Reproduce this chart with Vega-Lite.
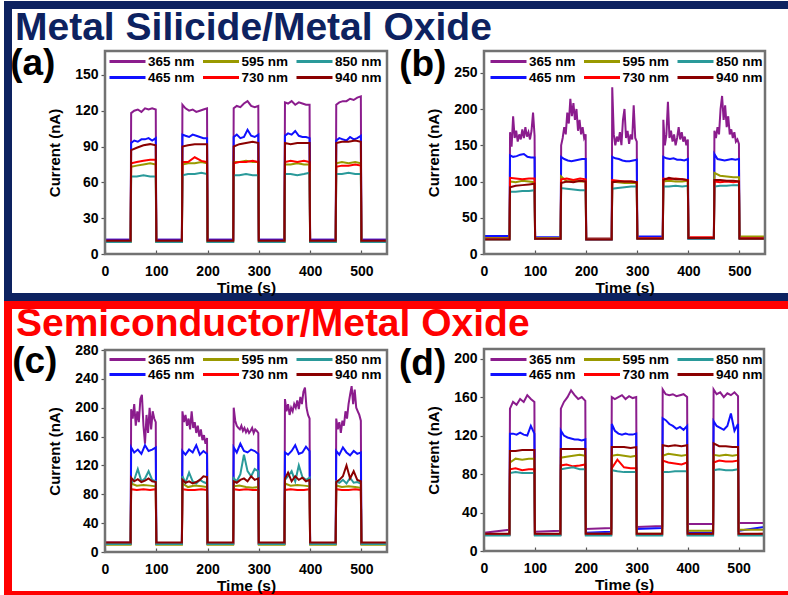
{
"$schema": "https://vega.github.io/schema/vega-lite/v6.json",
"usermeta": {"embedOptions": {"actions": false}},
"background": "#ffffff",
"padding": {"left": 4, "top": 1, "right": -24, "bottom": -4},
"spacing": 8,
"bounds": "flush",
"config": {
  "font": "Liberation Sans",
  "axis": {"domain": false, "grid": false, "labelFont": "Liberation Sans", "labelFontSize": 14, "labelFontWeight": "bold", "labelColor": "#000000", "titleFont": "Liberation Sans", "titleFontSize": 15, "titleFontWeight": "bold", "titleColor": "#000000", "tickColor": "#555555", "tickWidth": 1.2, "labelFlush": false, "labelOverlap": false},
  "axisX": {"tickSize": -4, "labelPadding": 14, "titlePadding": 2, "titleFontSize": 15.5},
  "axisY": {"tickSize": 4, "labelPadding": 3, "titlePadding": 12}
},
"vconcat": [
{
  "width": 800, "height": 292,
  "view": {"stroke": "#0d2260", "strokeWidth": 8, "fill": "#ffffff"},
  "resolve": {"scale": {"x": "independent", "y": "independent", "color": "independent"}, "axis": {"x": "independent", "y": "independent"}, "legend": {"color": "independent"}},
  "layer": [
    {
      "data": {"values": [{"label": "Metal Silicide/Metal Oxide"}]},
      "mark": {"type": "text", "fontSize": 39, "fontWeight": "bold", "align": "left", "baseline": "alphabetic", "color": "#0d2260"},
      "encoding": {
        "x": {"datum": -175.5, "scale": {"domain": [0, 550], "range": [97, 379], "nice": false, "zero": false}, "axis": null},
        "y": {"datum": 179.6, "scale": {"domain": [0, 170], "range": [249, 46], "nice": false, "zero": false}, "axis": null},
        "text": {"field": "label"}}
    },
    {
      "data": {"name": "a"},
      "mark": {"type": "line", "strokeWidth": 2},
      "encoding": {
        "x": {"field": "t", "type": "quantitative", "scale": {"domain": [0, 550], "range": [97, 379], "nice": false, "zero": false}, "axis": {"orient": "bottom", "offset": -43, "values": [0, 100, 200, 300, 400, 500], "title": "Time (s)"}},
        "y": {"field": "v", "type": "quantitative", "scale": {"domain": [0, 170], "range": [249, 46], "nice": false, "zero": false}, "axis": {"orient": "left", "offset": -97, "values": [0, 30, 60, 90, 120, 150], "title": "Current (nA)"}},
        "color": {"field": "w", "type": "nominal", "scale": {"domain": [365, 595, 850, 465, 730, 940], "range": ["#8b1c8d", "#999900", "#2a9a9a", "#1010ff", "#ff0000", "#8b0000"]},
          "legend": {"orient": "none", "legendX": 100, "legendY": 49, "title": null, "columns": 3, "direction": "horizontal", "symbolType": "M-1,0H5", "symbolSize": 144, "symbolStrokeWidth": 3, "labelOffset": 25, "columnPadding": 1.5, "rowPadding": 2, "padding": 0, "labelFontSize": 13.5, "labelFontWeight": "bold", "labelFont": "Liberation Sans", "labelColor": "#000000", "labelExpr": "datum.label + ' nm'"}}
      }
    },
    {
      "data": {"values": [{"label": "(a)"}]},
      "mark": {"type": "text", "fontSize": 37, "fontWeight": "bold", "align": "left", "baseline": "alphabetic", "color": "#000000"},
      "encoding": {
        "x": {"datum": -185, "scale": {"domain": [0, 550], "range": [97, 379], "nice": false, "zero": false}, "axis": null},
        "y": {"datum": 150, "scale": {"domain": [0, 170], "range": [249, 46], "nice": false, "zero": false}, "axis": null},
        "text": {"field": "label"}}
    },
    {
      "data": {"values": [{"label": "frame"}]},
      "mark": {"type": "rect", "fill": "transparent", "stroke": "#727272", "strokeWidth": 2.5},
      "encoding": {
        "x": {"datum": 0, "scale": {"domain": [0, 550], "range": [97, 379], "nice": false, "zero": false}, "axis": null}, "x2": {"datum": 550},
        "y": {"datum": 0, "scale": {"domain": [0, 170], "range": [249, 46], "nice": false, "zero": false}, "axis": null}, "y2": {"datum": 170}}
    },
    {
      "data": {"name": "b"},
      "mark": {"type": "line", "strokeWidth": 2},
      "encoding": {
        "x": {"field": "t", "type": "quantitative", "scale": {"domain": [0, 550], "range": [476, 757], "nice": false, "zero": false}, "axis": {"orient": "bottom", "offset": -43, "values": [0, 100, 200, 300, 400, 500], "title": "Time (s)"}},
        "y": {"field": "v", "type": "quantitative", "scale": {"domain": [0, 280], "range": [249, 46], "nice": false, "zero": false}, "axis": {"orient": "left", "offset": -476, "values": [0, 50, 100, 150, 200, 250], "title": "Current (nA)"}},
        "color": {"field": "w", "type": "nominal", "scale": {"domain": [365, 595, 850, 465, 730, 940], "range": ["#8b1c8d", "#999900", "#2a9a9a", "#1010ff", "#ff0000", "#8b0000"]},
          "legend": {"orient": "none", "legendX": 481, "legendY": 49, "title": null, "columns": 3, "direction": "horizontal", "symbolType": "M-1,0H5", "symbolSize": 144, "symbolStrokeWidth": 3, "labelOffset": 25, "columnPadding": 1.5, "rowPadding": 2, "padding": 0, "labelFontSize": 13.5, "labelFontWeight": "bold", "labelFont": "Liberation Sans", "labelColor": "#000000", "labelExpr": "datum.label + ' nm'"}}
      }
    },
    {
      "data": {"values": [{"label": "(b)"}]},
      "mark": {"type": "text", "fontSize": 37, "fontWeight": "bold", "align": "left", "baseline": "alphabetic", "color": "#000000"},
      "encoding": {
        "x": {"datum": -166, "scale": {"domain": [0, 550], "range": [476, 757], "nice": false, "zero": false}, "axis": null},
        "y": {"datum": 246, "scale": {"domain": [0, 280], "range": [249, 46], "nice": false, "zero": false}, "axis": null},
        "text": {"field": "label"}}
    },
    {
      "data": {"values": [{"label": "frame"}]},
      "mark": {"type": "rect", "fill": "transparent", "stroke": "#727272", "strokeWidth": 2.5},
      "encoding": {
        "x": {"datum": 0, "scale": {"domain": [0, 550], "range": [476, 757], "nice": false, "zero": false}, "axis": null}, "x2": {"datum": 550},
        "y": {"datum": 0, "scale": {"domain": [0, 280], "range": [249, 46], "nice": false, "zero": false}, "axis": null}, "y2": {"datum": 280}}
    }
  ]
},
{
  "width": 800, "height": 290,
  "view": {"stroke": "#ff0000", "strokeWidth": 8, "fill": "#ffffff"},
  "resolve": {"scale": {"x": "independent", "y": "independent", "color": "independent"}, "axis": {"x": "independent", "y": "independent"}, "legend": {"color": "independent"}},
  "layer": [
    {
      "data": {"values": [{"label": "Semiconductor/Metal Oxide"}]},
      "mark": {"type": "text", "fontSize": 39, "fontWeight": "bold", "align": "left", "baseline": "alphabetic", "color": "#ff0000"},
      "encoding": {
        "x": {"datum": -173.6, "scale": {"domain": [0, 550], "range": [97, 379], "nice": false, "zero": false}, "axis": null},
        "y": {"datum": 300, "scale": {"domain": [0, 280], "range": [247, 45], "nice": false, "zero": false}, "axis": null},
        "text": {"field": "label"}}
    },
    {
      "data": {"name": "c"},
      "mark": {"type": "line", "strokeWidth": 2},
      "encoding": {
        "x": {"field": "t", "type": "quantitative", "scale": {"domain": [0, 550], "range": [97, 379], "nice": false, "zero": false}, "axis": {"orient": "bottom", "offset": -43, "values": [0, 100, 200, 300, 400, 500], "title": "Time (s)"}},
        "y": {"field": "v", "type": "quantitative", "scale": {"domain": [0, 280], "range": [247, 45], "nice": false, "zero": false}, "axis": {"orient": "left", "offset": -97, "values": [0, 40, 80, 120, 160, 200, 240, 280], "title": "Current (nA)"}},
        "color": {"field": "w", "type": "nominal", "scale": {"domain": [365, 595, 850, 465, 730, 940], "range": ["#8b1c8d", "#999900", "#2a9a9a", "#1010ff", "#ff0000", "#8b0000"]},
          "legend": {"orient": "none", "legendX": 100, "legendY": 47, "title": null, "columns": 3, "direction": "horizontal", "symbolType": "M-1,0H5", "symbolSize": 144, "symbolStrokeWidth": 3, "labelOffset": 25, "columnPadding": 1.5, "rowPadding": 1, "padding": 0, "labelFontSize": 13.5, "labelFontWeight": "bold", "labelFont": "Liberation Sans", "labelColor": "#000000", "labelExpr": "datum.label + ' nm'"}}
      }
    },
    {
      "data": {"values": [{"label": "(c)"}]},
      "mark": {"type": "text", "fontSize": 37, "fontWeight": "bold", "align": "left", "baseline": "alphabetic", "color": "#000000"},
      "encoding": {
        "x": {"datum": -181, "scale": {"domain": [0, 550], "range": [97, 379], "nice": false, "zero": false}, "axis": null},
        "y": {"datum": 248, "scale": {"domain": [0, 280], "range": [247, 45], "nice": false, "zero": false}, "axis": null},
        "text": {"field": "label"}}
    },
    {
      "data": {"values": [{"label": "frame"}]},
      "mark": {"type": "rect", "fill": "transparent", "stroke": "#727272", "strokeWidth": 2.5},
      "encoding": {
        "x": {"datum": 0, "scale": {"domain": [0, 550], "range": [97, 379], "nice": false, "zero": false}, "axis": null}, "x2": {"datum": 550},
        "y": {"datum": 0, "scale": {"domain": [0, 280], "range": [247, 45], "nice": false, "zero": false}, "axis": null}, "y2": {"datum": 280}}
    },
    {
      "data": {"name": "d"},
      "mark": {"type": "line", "strokeWidth": 2},
      "encoding": {
        "x": {"field": "t", "type": "quantitative", "scale": {"domain": [0, 550], "range": [476, 756], "nice": false, "zero": false}, "axis": {"orient": "bottom", "offset": -44, "values": [0, 100, 200, 300, 400, 500], "title": "Time (s)"}},
        "y": {"field": "v", "type": "quantitative", "scale": {"domain": [0, 210], "range": [246, 44], "nice": false, "zero": false}, "axis": {"orient": "left", "offset": -476, "values": [0, 40, 80, 120, 160, 200], "title": "Current (nA)"}},
        "color": {"field": "w", "type": "nominal", "scale": {"domain": [365, 595, 850, 465, 730, 940], "range": ["#8b1c8d", "#999900", "#2a9a9a", "#1010ff", "#ff0000", "#8b0000"]},
          "legend": {"orient": "none", "legendX": 481, "legendY": 47, "title": null, "columns": 3, "direction": "horizontal", "symbolType": "M-1,0H5", "symbolSize": 144, "symbolStrokeWidth": 3, "labelOffset": 25, "columnPadding": 1.5, "rowPadding": 1, "padding": 0, "labelFontSize": 13.5, "labelFontWeight": "bold", "labelFont": "Liberation Sans", "labelColor": "#000000", "labelExpr": "datum.label + ' nm'"}}
      }
    },
    {
      "data": {"values": [{"label": "(d)"}]},
      "mark": {"type": "text", "fontSize": 37, "fontWeight": "bold", "align": "left", "baseline": "alphabetic", "color": "#000000"},
      "encoding": {
        "x": {"datum": -167, "scale": {"domain": [0, 550], "range": [476, 756], "nice": false, "zero": false}, "axis": null},
        "y": {"datum": 183, "scale": {"domain": [0, 210], "range": [246, 44], "nice": false, "zero": false}, "axis": null},
        "text": {"field": "label"}}
    },
    {
      "data": {"values": [{"label": "frame"}]},
      "mark": {"type": "rect", "fill": "transparent", "stroke": "#727272", "strokeWidth": 2.5},
      "encoding": {
        "x": {"datum": 0, "scale": {"domain": [0, 550], "range": [476, 756], "nice": false, "zero": false}, "axis": null}, "x2": {"datum": 550},
        "y": {"datum": 0, "scale": {"domain": [0, 210], "range": [246, 44], "nice": false, "zero": false}, "axis": null}, "y2": {"datum": 210}}
    }
  ]
}
],
"datasets": {
"a": [
{"t":0,"w":365,"v":12},{"t":50,"w":365,"v":12},{"t":51,"w":365,"v":118},{"t":57,"w":365,"v":120},{"t":64,"w":365,"v":121},{"t":71,"w":365,"v":119},{"t":78,"w":365,"v":122},{"t":85,"w":365,"v":121},{"t":92,"w":365,"v":122},{"t":99,"w":365,"v":121},{"t":100,"w":365,"v":12},{"t":150,"w":365,"v":12},{"t":151,"w":365,"v":125},{"t":157,"w":365,"v":122},{"t":164,"w":365,"v":120},{"t":171,"w":365,"v":121},{"t":178,"w":365,"v":119},{"t":185,"w":365,"v":120},{"t":192,"w":365,"v":121},{"t":199,"w":365,"v":122},{"t":200,"w":365,"v":12},{"t":250,"w":365,"v":12},{"t":251,"w":365,"v":122},{"t":257,"w":365,"v":124},{"t":264,"w":365,"v":123},{"t":271,"w":365,"v":126},{"t":278,"w":365,"v":128},{"t":285,"w":365,"v":124},{"t":292,"w":365,"v":123},{"t":299,"w":365,"v":124},{"t":300,"w":365,"v":12},{"t":350,"w":365,"v":12},{"t":351,"w":365,"v":127},{"t":357,"w":365,"v":126},{"t":364,"w":365,"v":128},{"t":371,"w":365,"v":125},{"t":378,"w":365,"v":127},{"t":385,"w":365,"v":126},{"t":392,"w":365,"v":125},{"t":399,"w":365,"v":125},{"t":400,"w":365,"v":12},{"t":450,"w":365,"v":12},{"t":451,"w":365,"v":125},{"t":457,"w":365,"v":127},{"t":464,"w":365,"v":128},{"t":471,"w":365,"v":128},{"t":478,"w":365,"v":130},{"t":485,"w":365,"v":129},{"t":492,"w":365,"v":131},{"t":499,"w":365,"v":132},{"t":500,"w":365,"v":12},{"t":550,"w":365,"v":12},
{"t":0,"w":465,"v":12},{"t":50,"w":465,"v":12},{"t":51,"w":465,"v":93},{"t":57,"w":465,"v":95},{"t":64,"w":465,"v":94},{"t":71,"w":465,"v":96},{"t":78,"w":465,"v":96},{"t":85,"w":465,"v":97},{"t":92,"w":465,"v":95},{"t":99,"w":465,"v":97},{"t":100,"w":465,"v":12},{"t":150,"w":465,"v":12},{"t":151,"w":465,"v":100},{"t":157,"w":465,"v":99},{"t":164,"w":465,"v":98},{"t":171,"w":465,"v":100},{"t":178,"w":465,"v":99},{"t":185,"w":465,"v":98},{"t":192,"w":465,"v":97},{"t":199,"w":465,"v":97},{"t":200,"w":465,"v":12},{"t":250,"w":465,"v":12},{"t":251,"w":465,"v":98},{"t":257,"w":465,"v":100},{"t":264,"w":465,"v":97},{"t":271,"w":465,"v":98},{"t":278,"w":465,"v":104},{"t":285,"w":465,"v":99},{"t":292,"w":465,"v":98},{"t":299,"w":465,"v":100},{"t":300,"w":465,"v":12},{"t":350,"w":465,"v":12},{"t":351,"w":465,"v":99},{"t":357,"w":465,"v":101},{"t":364,"w":465,"v":100},{"t":371,"w":465,"v":103},{"t":378,"w":465,"v":99},{"t":385,"w":465,"v":98},{"t":392,"w":465,"v":98},{"t":399,"w":465,"v":97},{"t":400,"w":465,"v":12},{"t":450,"w":465,"v":12},{"t":451,"w":465,"v":95},{"t":457,"w":465,"v":97},{"t":464,"w":465,"v":96},{"t":471,"w":465,"v":95},{"t":478,"w":465,"v":98},{"t":485,"w":465,"v":96},{"t":492,"w":465,"v":97},{"t":499,"w":465,"v":99},{"t":500,"w":465,"v":12},{"t":550,"w":465,"v":12},
{"t":0,"w":595,"v":10},{"t":50,"w":595,"v":10},{"t":51,"w":595,"v":73},{"t":62,"w":595,"v":74},{"t":75,"w":595,"v":75},{"t":88,"w":595,"v":76},{"t":99,"w":595,"v":75},{"t":100,"w":595,"v":10},{"t":150,"w":595,"v":10},{"t":151,"w":595,"v":75},{"t":162,"w":595,"v":76},{"t":175,"w":595,"v":76},{"t":188,"w":595,"v":77},{"t":199,"w":595,"v":76},{"t":200,"w":595,"v":10},{"t":250,"w":595,"v":10},{"t":251,"w":595,"v":77},{"t":262,"w":595,"v":77},{"t":275,"w":595,"v":78},{"t":288,"w":595,"v":77},{"t":299,"w":595,"v":77},{"t":300,"w":595,"v":10},{"t":350,"w":595,"v":10},{"t":351,"w":595,"v":75},{"t":362,"w":595,"v":75},{"t":375,"w":595,"v":76},{"t":388,"w":595,"v":75},{"t":399,"w":595,"v":75},{"t":400,"w":595,"v":10},{"t":450,"w":595,"v":10},{"t":451,"w":595,"v":76},{"t":462,"w":595,"v":77},{"t":475,"w":595,"v":76},{"t":488,"w":595,"v":77},{"t":499,"w":595,"v":76},{"t":500,"w":595,"v":10},{"t":550,"w":595,"v":10},
{"t":0,"w":730,"v":11},{"t":50,"w":730,"v":11},{"t":51,"w":730,"v":76},{"t":62,"w":730,"v":77},{"t":75,"w":730,"v":78},{"t":88,"w":730,"v":79},{"t":99,"w":730,"v":79},{"t":100,"w":730,"v":11},{"t":150,"w":730,"v":11},{"t":151,"w":730,"v":77},{"t":162,"w":730,"v":77},{"t":175,"w":730,"v":81},{"t":188,"w":730,"v":78},{"t":199,"w":730,"v":77},{"t":200,"w":730,"v":11},{"t":250,"w":730,"v":11},{"t":251,"w":730,"v":76},{"t":262,"w":730,"v":77},{"t":275,"w":730,"v":77},{"t":288,"w":730,"v":78},{"t":299,"w":730,"v":77},{"t":300,"w":730,"v":11},{"t":350,"w":730,"v":11},{"t":351,"w":730,"v":77},{"t":362,"w":730,"v":78},{"t":375,"w":730,"v":77},{"t":388,"w":730,"v":78},{"t":399,"w":730,"v":77},{"t":400,"w":730,"v":11},{"t":450,"w":730,"v":11},{"t":451,"w":730,"v":73},{"t":462,"w":730,"v":74},{"t":475,"w":730,"v":74},{"t":488,"w":730,"v":75},{"t":499,"w":730,"v":74},{"t":500,"w":730,"v":11},{"t":550,"w":730,"v":11},
{"t":0,"w":850,"v":10},{"t":50,"w":850,"v":10},{"t":51,"w":850,"v":65},{"t":62,"w":850,"v":65},{"t":75,"w":850,"v":66},{"t":88,"w":850,"v":65},{"t":99,"w":850,"v":65},{"t":100,"w":850,"v":10},{"t":150,"w":850,"v":10},{"t":151,"w":850,"v":66},{"t":162,"w":850,"v":67},{"t":175,"w":850,"v":67},{"t":188,"w":850,"v":68},{"t":199,"w":850,"v":67},{"t":200,"w":850,"v":10},{"t":250,"w":850,"v":10},{"t":251,"w":850,"v":66},{"t":262,"w":850,"v":66},{"t":275,"w":850,"v":67},{"t":288,"w":850,"v":66},{"t":299,"w":850,"v":66},{"t":300,"w":850,"v":10},{"t":350,"w":850,"v":10},{"t":351,"w":850,"v":67},{"t":362,"w":850,"v":67},{"t":375,"w":850,"v":66},{"t":388,"w":850,"v":67},{"t":399,"w":850,"v":68},{"t":400,"w":850,"v":10},{"t":450,"w":850,"v":10},{"t":451,"w":850,"v":67},{"t":462,"w":850,"v":67},{"t":475,"w":850,"v":68},{"t":488,"w":850,"v":67},{"t":499,"w":850,"v":67},{"t":500,"w":850,"v":10},{"t":550,"w":850,"v":10},
{"t":0,"w":940,"v":11},{"t":50,"w":940,"v":11},{"t":51,"w":940,"v":87},{"t":62,"w":940,"v":89},{"t":75,"w":940,"v":91},{"t":88,"w":940,"v":92},{"t":99,"w":940,"v":91},{"t":100,"w":940,"v":11},{"t":150,"w":940,"v":11},{"t":151,"w":940,"v":90},{"t":162,"w":940,"v":91},{"t":175,"w":940,"v":92},{"t":188,"w":940,"v":92},{"t":199,"w":940,"v":92},{"t":200,"w":940,"v":11},{"t":250,"w":940,"v":11},{"t":251,"w":940,"v":90},{"t":262,"w":940,"v":92},{"t":275,"w":940,"v":93},{"t":288,"w":940,"v":94},{"t":299,"w":940,"v":93},{"t":300,"w":940,"v":11},{"t":350,"w":940,"v":11},{"t":351,"w":940,"v":93},{"t":362,"w":940,"v":92},{"t":375,"w":940,"v":93},{"t":388,"w":940,"v":93},{"t":399,"w":940,"v":93},{"t":400,"w":940,"v":11},{"t":450,"w":940,"v":11},{"t":451,"w":940,"v":93},{"t":462,"w":940,"v":94},{"t":475,"w":940,"v":94},{"t":488,"w":940,"v":95},{"t":499,"w":940,"v":94},{"t":500,"w":940,"v":11},{"t":550,"w":940,"v":11}
],
"b": [
{"t":0,"w":365,"v":21},{"t":50,"w":365,"v":21},{"t":51,"w":365,"v":168},{"t":54,"w":365,"v":148},{"t":57,"w":365,"v":190},{"t":60,"w":365,"v":160},{"t":63,"w":365,"v":170},{"t":66,"w":365,"v":155},{"t":69,"w":365,"v":165},{"t":72,"w":365,"v":158},{"t":75,"w":365,"v":172},{"t":78,"w":365,"v":160},{"t":81,"w":365,"v":175},{"t":84,"w":365,"v":162},{"t":87,"w":365,"v":168},{"t":90,"w":365,"v":158},{"t":93,"w":365,"v":170},{"t":96,"w":365,"v":195},{"t":99,"w":365,"v":163},{"t":100,"w":365,"v":21},{"t":150,"w":365,"v":21},{"t":151,"w":365,"v":150},{"t":154,"w":365,"v":160},{"t":157,"w":365,"v":175},{"t":160,"w":365,"v":165},{"t":163,"w":365,"v":195},{"t":166,"w":365,"v":180},{"t":169,"w":365,"v":214},{"t":172,"w":365,"v":190},{"t":175,"w":365,"v":208},{"t":178,"w":365,"v":185},{"t":181,"w":365,"v":200},{"t":184,"w":365,"v":170},{"t":187,"w":365,"v":185},{"t":190,"w":365,"v":165},{"t":193,"w":365,"v":175},{"t":196,"w":365,"v":160},{"t":199,"w":365,"v":165},{"t":200,"w":365,"v":20},{"t":250,"w":365,"v":20},{"t":251,"w":365,"v":230},{"t":254,"w":365,"v":165},{"t":257,"w":365,"v":150},{"t":260,"w":365,"v":162},{"t":263,"w":365,"v":155},{"t":266,"w":365,"v":168},{"t":269,"w":365,"v":150},{"t":272,"w":365,"v":185},{"t":275,"w":365,"v":200},{"t":278,"w":365,"v":160},{"t":281,"w":365,"v":170},{"t":284,"w":365,"v":152},{"t":287,"w":365,"v":165},{"t":290,"w":365,"v":158},{"t":293,"w":365,"v":205},{"t":296,"w":365,"v":160},{"t":299,"w":365,"v":155},{"t":300,"w":365,"v":22},{"t":350,"w":365,"v":22},{"t":351,"w":365,"v":185},{"t":354,"w":365,"v":150},{"t":357,"w":365,"v":165},{"t":360,"w":365,"v":210},{"t":363,"w":365,"v":160},{"t":366,"w":365,"v":170},{"t":369,"w":365,"v":155},{"t":372,"w":365,"v":165},{"t":375,"w":365,"v":150},{"t":378,"w":365,"v":160},{"t":381,"w":365,"v":175},{"t":384,"w":365,"v":158},{"t":387,"w":365,"v":168},{"t":390,"w":365,"v":155},{"t":393,"w":365,"v":162},{"t":396,"w":365,"v":150},{"t":399,"w":365,"v":158},{"t":400,"w":365,"v":21},{"t":450,"w":365,"v":21},{"t":451,"w":365,"v":170},{"t":454,"w":365,"v":160},{"t":457,"w":365,"v":175},{"t":460,"w":365,"v":165},{"t":463,"w":365,"v":200},{"t":466,"w":365,"v":218},{"t":469,"w":365,"v":185},{"t":472,"w":365,"v":205},{"t":475,"w":365,"v":175},{"t":478,"w":365,"v":190},{"t":481,"w":365,"v":165},{"t":484,"w":365,"v":172},{"t":487,"w":365,"v":160},{"t":490,"w":365,"v":168},{"t":493,"w":365,"v":155},{"t":496,"w":365,"v":158},{"t":499,"w":365,"v":152},{"t":500,"w":365,"v":22},{"t":550,"w":365,"v":22},
{"t":0,"w":465,"v":25},{"t":50,"w":465,"v":25},{"t":51,"w":465,"v":136},{"t":57,"w":465,"v":134},{"t":64,"w":465,"v":135},{"t":71,"w":465,"v":137},{"t":78,"w":465,"v":138},{"t":85,"w":465,"v":134},{"t":92,"w":465,"v":133},{"t":99,"w":465,"v":133},{"t":100,"w":465,"v":23},{"t":150,"w":465,"v":23},{"t":151,"w":465,"v":134},{"t":157,"w":465,"v":131},{"t":164,"w":465,"v":129},{"t":171,"w":465,"v":128},{"t":178,"w":465,"v":129},{"t":185,"w":465,"v":130},{"t":192,"w":465,"v":131},{"t":199,"w":465,"v":131},{"t":200,"w":465,"v":21},{"t":250,"w":465,"v":21},{"t":251,"w":465,"v":134},{"t":257,"w":465,"v":132},{"t":264,"w":465,"v":131},{"t":271,"w":465,"v":129},{"t":278,"w":465,"v":128},{"t":285,"w":465,"v":128},{"t":292,"w":465,"v":129},{"t":299,"w":465,"v":130},{"t":300,"w":465,"v":24},{"t":350,"w":465,"v":24},{"t":351,"w":465,"v":134},{"t":357,"w":465,"v":132},{"t":364,"w":465,"v":131},{"t":371,"w":465,"v":132},{"t":378,"w":465,"v":130},{"t":385,"w":465,"v":130},{"t":392,"w":465,"v":129},{"t":399,"w":465,"v":131},{"t":400,"w":465,"v":22},{"t":450,"w":465,"v":22},{"t":451,"w":465,"v":138},{"t":457,"w":465,"v":131},{"t":464,"w":465,"v":130},{"t":471,"w":465,"v":129},{"t":478,"w":465,"v":130},{"t":485,"w":465,"v":131},{"t":492,"w":465,"v":130},{"t":499,"w":465,"v":131},{"t":500,"w":465,"v":23},{"t":550,"w":465,"v":23},
{"t":0,"w":595,"v":22},{"t":50,"w":595,"v":22},{"t":51,"w":595,"v":100},{"t":62,"w":595,"v":99},{"t":75,"w":595,"v":101},{"t":88,"w":595,"v":100},{"t":99,"w":595,"v":99},{"t":100,"w":595,"v":22},{"t":150,"w":595,"v":22},{"t":151,"w":595,"v":107},{"t":162,"w":595,"v":100},{"t":175,"w":595,"v":101},{"t":188,"w":595,"v":100},{"t":199,"w":595,"v":100},{"t":200,"w":595,"v":21},{"t":250,"w":595,"v":21},{"t":251,"w":595,"v":100},{"t":262,"w":595,"v":99},{"t":275,"w":595,"v":98},{"t":288,"w":595,"v":98},{"t":299,"w":595,"v":98},{"t":300,"w":595,"v":22},{"t":350,"w":595,"v":22},{"t":351,"w":595,"v":100},{"t":362,"w":595,"v":101},{"t":375,"w":595,"v":100},{"t":388,"w":595,"v":100},{"t":399,"w":595,"v":101},{"t":400,"w":595,"v":22},{"t":450,"w":595,"v":22},{"t":451,"w":595,"v":112},{"t":462,"w":595,"v":108},{"t":475,"w":595,"v":107},{"t":488,"w":595,"v":106},{"t":499,"w":595,"v":106},{"t":500,"w":595,"v":24},{"t":550,"w":595,"v":24},
{"t":0,"w":730,"v":21},{"t":50,"w":730,"v":21},{"t":51,"w":730,"v":105},{"t":62,"w":730,"v":104},{"t":75,"w":730,"v":103},{"t":88,"w":730,"v":104},{"t":99,"w":730,"v":104},{"t":100,"w":730,"v":21},{"t":150,"w":730,"v":21},{"t":151,"w":730,"v":103},{"t":162,"w":730,"v":104},{"t":175,"w":730,"v":102},{"t":188,"w":730,"v":104},{"t":199,"w":730,"v":103},{"t":200,"w":730,"v":21},{"t":250,"w":730,"v":21},{"t":251,"w":730,"v":102},{"t":262,"w":730,"v":101},{"t":275,"w":730,"v":100},{"t":288,"w":730,"v":100},{"t":299,"w":730,"v":99},{"t":300,"w":730,"v":22},{"t":350,"w":730,"v":22},{"t":351,"w":730,"v":104},{"t":362,"w":730,"v":103},{"t":375,"w":730,"v":104},{"t":388,"w":730,"v":103},{"t":399,"w":730,"v":102},{"t":400,"w":730,"v":23},{"t":450,"w":730,"v":23},{"t":451,"w":730,"v":100},{"t":462,"w":730,"v":99},{"t":475,"w":730,"v":100},{"t":488,"w":730,"v":99},{"t":499,"w":730,"v":100},{"t":500,"w":730,"v":22},{"t":550,"w":730,"v":22},
{"t":0,"w":850,"v":20},{"t":50,"w":850,"v":20},{"t":51,"w":850,"v":86},{"t":62,"w":850,"v":86},{"t":75,"w":850,"v":87},{"t":88,"w":850,"v":87},{"t":99,"w":850,"v":88},{"t":100,"w":850,"v":21},{"t":150,"w":850,"v":21},{"t":151,"w":850,"v":91},{"t":162,"w":850,"v":90},{"t":175,"w":850,"v":89},{"t":188,"w":850,"v":88},{"t":199,"w":850,"v":88},{"t":200,"w":850,"v":20},{"t":250,"w":850,"v":20},{"t":251,"w":850,"v":90},{"t":262,"w":850,"v":91},{"t":275,"w":850,"v":92},{"t":288,"w":850,"v":93},{"t":299,"w":850,"v":93},{"t":300,"w":850,"v":21},{"t":350,"w":850,"v":21},{"t":351,"w":850,"v":93},{"t":362,"w":850,"v":93},{"t":375,"w":850,"v":94},{"t":388,"w":850,"v":93},{"t":399,"w":850,"v":94},{"t":400,"w":850,"v":21},{"t":450,"w":850,"v":21},{"t":451,"w":850,"v":93},{"t":462,"w":850,"v":94},{"t":475,"w":850,"v":94},{"t":488,"w":850,"v":95},{"t":499,"w":850,"v":95},{"t":500,"w":850,"v":21},{"t":550,"w":850,"v":21},
{"t":0,"w":940,"v":20},{"t":50,"w":940,"v":20},{"t":51,"w":940,"v":92},{"t":62,"w":940,"v":94},{"t":75,"w":940,"v":95},{"t":88,"w":940,"v":96},{"t":99,"w":940,"v":97},{"t":100,"w":940,"v":21},{"t":150,"w":940,"v":21},{"t":151,"w":940,"v":98},{"t":162,"w":940,"v":100},{"t":175,"w":940,"v":99},{"t":188,"w":940,"v":101},{"t":199,"w":940,"v":100},{"t":200,"w":940,"v":20},{"t":250,"w":940,"v":20},{"t":251,"w":940,"v":99},{"t":262,"w":940,"v":100},{"t":275,"w":940,"v":100},{"t":288,"w":940,"v":100},{"t":299,"w":940,"v":99},{"t":300,"w":940,"v":21},{"t":350,"w":940,"v":21},{"t":351,"w":940,"v":102},{"t":362,"w":940,"v":105},{"t":375,"w":940,"v":103},{"t":388,"w":940,"v":103},{"t":399,"w":940,"v":102},{"t":400,"w":940,"v":22},{"t":450,"w":940,"v":22},{"t":451,"w":940,"v":102},{"t":462,"w":940,"v":102},{"t":475,"w":940,"v":101},{"t":488,"w":940,"v":101},{"t":499,"w":940,"v":100},{"t":500,"w":940,"v":21},{"t":550,"w":940,"v":21}
],
"c": [
{"t":0,"w":365,"v":13},{"t":50,"w":365,"v":13},{"t":51,"w":365,"v":198},{"t":54,"w":365,"v":185},{"t":57,"w":365,"v":205},{"t":60,"w":365,"v":175},{"t":63,"w":365,"v":195},{"t":66,"w":365,"v":180},{"t":69,"w":365,"v":212},{"t":72,"w":365,"v":218},{"t":75,"w":365,"v":175},{"t":78,"w":365,"v":150},{"t":81,"w":365,"v":190},{"t":84,"w":365,"v":165},{"t":87,"w":365,"v":200},{"t":90,"w":365,"v":170},{"t":93,"w":365,"v":195},{"t":96,"w":365,"v":185},{"t":99,"w":365,"v":180},{"t":100,"w":365,"v":12},{"t":150,"w":365,"v":12},{"t":151,"w":365,"v":195},{"t":154,"w":365,"v":180},{"t":157,"w":365,"v":190},{"t":160,"w":365,"v":175},{"t":163,"w":365,"v":185},{"t":166,"w":365,"v":170},{"t":169,"w":365,"v":195},{"t":172,"w":365,"v":172},{"t":175,"w":365,"v":180},{"t":178,"w":365,"v":165},{"t":181,"w":365,"v":175},{"t":184,"w":365,"v":160},{"t":187,"w":365,"v":170},{"t":190,"w":365,"v":155},{"t":193,"w":365,"v":162},{"t":196,"w":365,"v":150},{"t":199,"w":365,"v":158},{"t":200,"w":365,"v":12},{"t":250,"w":365,"v":12},{"t":251,"w":365,"v":200},{"t":254,"w":365,"v":182},{"t":257,"w":365,"v":175},{"t":260,"w":365,"v":172},{"t":263,"w":365,"v":170},{"t":266,"w":365,"v":175},{"t":269,"w":365,"v":168},{"t":272,"w":365,"v":172},{"t":275,"w":365,"v":166},{"t":278,"w":365,"v":170},{"t":281,"w":365,"v":165},{"t":284,"w":365,"v":168},{"t":287,"w":365,"v":172},{"t":290,"w":365,"v":165},{"t":293,"w":365,"v":170},{"t":296,"w":365,"v":168},{"t":299,"w":365,"v":165},{"t":300,"w":365,"v":12},{"t":350,"w":365,"v":12},{"t":351,"w":365,"v":212},{"t":354,"w":365,"v":195},{"t":357,"w":365,"v":205},{"t":360,"w":365,"v":190},{"t":363,"w":365,"v":200},{"t":366,"w":365,"v":195},{"t":369,"w":365,"v":205},{"t":372,"w":365,"v":200},{"t":375,"w":365,"v":210},{"t":378,"w":365,"v":198},{"t":381,"w":365,"v":215},{"t":384,"w":365,"v":205},{"t":387,"w":365,"v":222},{"t":390,"w":365,"v":228},{"t":393,"w":365,"v":200},{"t":396,"w":365,"v":190},{"t":399,"w":365,"v":185},{"t":400,"w":365,"v":12},{"t":450,"w":365,"v":12},{"t":451,"w":365,"v":185},{"t":454,"w":365,"v":170},{"t":457,"w":365,"v":180},{"t":460,"w":365,"v":165},{"t":463,"w":365,"v":182},{"t":466,"w":365,"v":175},{"t":469,"w":365,"v":195},{"t":472,"w":365,"v":185},{"t":475,"w":365,"v":205},{"t":478,"w":365,"v":218},{"t":481,"w":365,"v":230},{"t":484,"w":365,"v":205},{"t":487,"w":365,"v":225},{"t":490,"w":365,"v":200},{"t":493,"w":365,"v":195},{"t":496,"w":365,"v":190},{"t":499,"w":365,"v":182},{"t":500,"w":365,"v":12},{"t":550,"w":365,"v":12},
{"t":0,"w":465,"v":12},{"t":50,"w":465,"v":12},{"t":51,"w":465,"v":145},{"t":57,"w":465,"v":138},{"t":64,"w":465,"v":142},{"t":71,"w":465,"v":136},{"t":78,"w":465,"v":148},{"t":85,"w":465,"v":140},{"t":92,"w":465,"v":142},{"t":99,"w":465,"v":145},{"t":100,"w":465,"v":12},{"t":150,"w":465,"v":12},{"t":151,"w":465,"v":140},{"t":157,"w":465,"v":135},{"t":164,"w":465,"v":142},{"t":171,"w":465,"v":138},{"t":178,"w":465,"v":148},{"t":185,"w":465,"v":135},{"t":192,"w":465,"v":140},{"t":199,"w":465,"v":136},{"t":200,"w":465,"v":12},{"t":250,"w":465,"v":12},{"t":251,"w":465,"v":145},{"t":257,"w":465,"v":138},{"t":264,"w":465,"v":150},{"t":271,"w":465,"v":140},{"t":278,"w":465,"v":138},{"t":285,"w":465,"v":142},{"t":292,"w":465,"v":140},{"t":299,"w":465,"v":136},{"t":300,"w":465,"v":12},{"t":350,"w":465,"v":12},{"t":351,"w":465,"v":138},{"t":357,"w":465,"v":135},{"t":364,"w":465,"v":140},{"t":371,"w":465,"v":148},{"t":378,"w":465,"v":136},{"t":385,"w":465,"v":138},{"t":392,"w":465,"v":146},{"t":399,"w":465,"v":140},{"t":400,"w":465,"v":12},{"t":450,"w":465,"v":12},{"t":451,"w":465,"v":140},{"t":457,"w":465,"v":135},{"t":464,"w":465,"v":145},{"t":471,"w":465,"v":138},{"t":478,"w":465,"v":134},{"t":485,"w":465,"v":140},{"t":492,"w":465,"v":136},{"t":499,"w":465,"v":138},{"t":500,"w":465,"v":12},{"t":550,"w":465,"v":12},
{"t":0,"w":595,"v":10},{"t":50,"w":595,"v":10},{"t":51,"w":595,"v":95},{"t":62,"w":595,"v":92},{"t":75,"w":595,"v":93},{"t":88,"w":595,"v":92},{"t":99,"w":595,"v":91},{"t":100,"w":595,"v":10},{"t":150,"w":595,"v":10},{"t":151,"w":595,"v":95},{"t":162,"w":595,"v":90},{"t":175,"w":595,"v":92},{"t":188,"w":595,"v":91},{"t":199,"w":595,"v":90},{"t":200,"w":595,"v":10},{"t":250,"w":595,"v":10},{"t":251,"w":595,"v":91},{"t":262,"w":595,"v":92},{"t":275,"w":595,"v":90},{"t":288,"w":595,"v":89},{"t":299,"w":595,"v":90},{"t":300,"w":595,"v":10},{"t":350,"w":595,"v":10},{"t":351,"w":595,"v":95},{"t":362,"w":595,"v":92},{"t":375,"w":595,"v":93},{"t":388,"w":595,"v":92},{"t":399,"w":595,"v":91},{"t":400,"w":595,"v":10},{"t":450,"w":595,"v":10},{"t":451,"w":595,"v":92},{"t":462,"w":595,"v":90},{"t":475,"w":595,"v":91},{"t":488,"w":595,"v":90},{"t":499,"w":595,"v":89},{"t":500,"w":595,"v":10},{"t":550,"w":595,"v":10},
{"t":0,"w":730,"v":11},{"t":50,"w":730,"v":11},{"t":51,"w":730,"v":87},{"t":62,"w":730,"v":86},{"t":75,"w":730,"v":87},{"t":88,"w":730,"v":86},{"t":99,"w":730,"v":87},{"t":100,"w":730,"v":11},{"t":150,"w":730,"v":11},{"t":151,"w":730,"v":87},{"t":162,"w":730,"v":86},{"t":175,"w":730,"v":86},{"t":188,"w":730,"v":87},{"t":199,"w":730,"v":86},{"t":200,"w":730,"v":11},{"t":250,"w":730,"v":11},{"t":251,"w":730,"v":87},{"t":262,"w":730,"v":86},{"t":275,"w":730,"v":87},{"t":288,"w":730,"v":86},{"t":299,"w":730,"v":86},{"t":300,"w":730,"v":11},{"t":350,"w":730,"v":11},{"t":351,"w":730,"v":86},{"t":362,"w":730,"v":87},{"t":375,"w":730,"v":86},{"t":388,"w":730,"v":86},{"t":399,"w":730,"v":87},{"t":400,"w":730,"v":11},{"t":450,"w":730,"v":11},{"t":451,"w":730,"v":87},{"t":462,"w":730,"v":86},{"t":475,"w":730,"v":86},{"t":488,"w":730,"v":87},{"t":499,"w":730,"v":86},{"t":500,"w":730,"v":11},{"t":550,"w":730,"v":11},
{"t":0,"w":850,"v":11},{"t":50,"w":850,"v":11},{"t":51,"w":850,"v":95},{"t":57,"w":850,"v":100},{"t":64,"w":850,"v":115},{"t":71,"w":850,"v":98},{"t":78,"w":850,"v":102},{"t":85,"w":850,"v":112},{"t":92,"w":850,"v":100},{"t":99,"w":850,"v":98},{"t":100,"w":850,"v":11},{"t":150,"w":850,"v":11},{"t":151,"w":850,"v":105},{"t":157,"w":850,"v":96},{"t":164,"w":850,"v":110},{"t":171,"w":850,"v":98},{"t":178,"w":850,"v":95},{"t":185,"w":850,"v":100},{"t":192,"w":850,"v":97},{"t":199,"w":850,"v":95},{"t":200,"w":850,"v":11},{"t":250,"w":850,"v":11},{"t":251,"w":850,"v":102},{"t":257,"w":850,"v":98},{"t":264,"w":850,"v":108},{"t":271,"w":850,"v":135},{"t":278,"w":850,"v":112},{"t":285,"w":850,"v":105},{"t":292,"w":850,"v":115},{"t":299,"w":850,"v":112},{"t":300,"w":850,"v":11},{"t":350,"w":850,"v":11},{"t":351,"w":850,"v":100},{"t":357,"w":850,"v":105},{"t":364,"w":850,"v":112},{"t":371,"w":850,"v":98},{"t":378,"w":850,"v":120},{"t":385,"w":850,"v":104},{"t":392,"w":850,"v":100},{"t":399,"w":850,"v":103},{"t":400,"w":850,"v":11},{"t":450,"w":850,"v":11},{"t":451,"w":850,"v":98},{"t":457,"w":850,"v":96},{"t":464,"w":850,"v":100},{"t":471,"w":850,"v":95},{"t":478,"w":850,"v":103},{"t":485,"w":850,"v":96},{"t":492,"w":850,"v":97},{"t":499,"w":850,"v":95},{"t":500,"w":850,"v":11},{"t":550,"w":850,"v":11},
{"t":0,"w":940,"v":13},{"t":50,"w":940,"v":13},{"t":51,"w":940,"v":103},{"t":57,"w":940,"v":98},{"t":64,"w":940,"v":101},{"t":71,"w":940,"v":97},{"t":78,"w":940,"v":99},{"t":85,"w":940,"v":102},{"t":92,"w":940,"v":98},{"t":99,"w":940,"v":97},{"t":100,"w":940,"v":13},{"t":150,"w":940,"v":13},{"t":151,"w":940,"v":100},{"t":157,"w":940,"v":96},{"t":164,"w":940,"v":98},{"t":171,"w":940,"v":95},{"t":178,"w":940,"v":97},{"t":185,"w":940,"v":100},{"t":192,"w":940,"v":105},{"t":199,"w":940,"v":104},{"t":200,"w":940,"v":13},{"t":250,"w":940,"v":13},{"t":251,"w":940,"v":98},{"t":257,"w":940,"v":96},{"t":264,"w":940,"v":100},{"t":271,"w":940,"v":102},{"t":278,"w":940,"v":98},{"t":285,"w":940,"v":105},{"t":292,"w":940,"v":100},{"t":299,"w":940,"v":102},{"t":300,"w":940,"v":13},{"t":350,"w":940,"v":13},{"t":351,"w":940,"v":102},{"t":357,"w":940,"v":110},{"t":364,"w":940,"v":98},{"t":371,"w":940,"v":105},{"t":378,"w":940,"v":100},{"t":385,"w":940,"v":103},{"t":392,"w":940,"v":98},{"t":399,"w":940,"v":100},{"t":400,"w":940,"v":13},{"t":450,"w":940,"v":13},{"t":451,"w":940,"v":97},{"t":457,"w":940,"v":100},{"t":464,"w":940,"v":105},{"t":471,"w":940,"v":120},{"t":478,"w":940,"v":102},{"t":485,"w":940,"v":112},{"t":492,"w":940,"v":100},{"t":499,"w":940,"v":98},{"t":500,"w":940,"v":13},{"t":550,"w":940,"v":13}
],
"d": [
{"t":0,"w":365,"v":19},{"t":50,"w":365,"v":22},{"t":51,"w":365,"v":148},{"t":57,"w":365,"v":155},{"t":64,"w":365,"v":152},{"t":71,"w":365,"v":158},{"t":78,"w":365,"v":155},{"t":85,"w":365,"v":162},{"t":92,"w":365,"v":158},{"t":99,"w":365,"v":155},{"t":100,"w":365,"v":20},{"t":150,"w":365,"v":21},{"t":151,"w":365,"v":148},{"t":157,"w":365,"v":155},{"t":164,"w":365,"v":160},{"t":171,"w":365,"v":167},{"t":178,"w":365,"v":162},{"t":185,"w":365,"v":158},{"t":192,"w":365,"v":160},{"t":199,"w":365,"v":156},{"t":200,"w":365,"v":23},{"t":250,"w":365,"v":24},{"t":251,"w":365,"v":160},{"t":257,"w":365,"v":158},{"t":264,"w":365,"v":160},{"t":271,"w":365,"v":162},{"t":278,"w":365,"v":158},{"t":285,"w":365,"v":161},{"t":292,"w":365,"v":159},{"t":299,"w":365,"v":160},{"t":300,"w":365,"v":25},{"t":350,"w":365,"v":26},{"t":351,"w":365,"v":168},{"t":357,"w":365,"v":163},{"t":364,"w":365,"v":162},{"t":371,"w":365,"v":163},{"t":378,"w":365,"v":161},{"t":385,"w":365,"v":162},{"t":392,"w":365,"v":163},{"t":399,"w":365,"v":160},{"t":400,"w":365,"v":28},{"t":450,"w":365,"v":28},{"t":451,"w":365,"v":168},{"t":457,"w":365,"v":163},{"t":464,"w":365,"v":165},{"t":471,"w":365,"v":160},{"t":478,"w":365,"v":164},{"t":485,"w":365,"v":162},{"t":492,"w":365,"v":165},{"t":499,"w":365,"v":161},{"t":500,"w":365,"v":29},{"t":550,"w":365,"v":29},
{"t":0,"w":465,"v":17},{"t":50,"w":465,"v":17},{"t":51,"w":465,"v":122},{"t":57,"w":465,"v":122},{"t":64,"w":465,"v":121},{"t":71,"w":465,"v":123},{"t":78,"w":465,"v":121},{"t":85,"w":465,"v":120},{"t":92,"w":465,"v":130},{"t":99,"w":465,"v":122},{"t":100,"w":465,"v":17},{"t":150,"w":465,"v":17},{"t":151,"w":465,"v":125},{"t":157,"w":465,"v":120},{"t":164,"w":465,"v":118},{"t":171,"w":465,"v":117},{"t":178,"w":465,"v":116},{"t":185,"w":465,"v":116},{"t":192,"w":465,"v":115},{"t":199,"w":465,"v":116},{"t":200,"w":465,"v":19},{"t":250,"w":465,"v":20},{"t":251,"w":465,"v":132},{"t":257,"w":465,"v":125},{"t":264,"w":465,"v":122},{"t":271,"w":465,"v":121},{"t":278,"w":465,"v":122},{"t":285,"w":465,"v":121},{"t":292,"w":465,"v":121},{"t":299,"w":465,"v":122},{"t":300,"w":465,"v":23},{"t":350,"w":465,"v":24},{"t":351,"w":465,"v":138},{"t":357,"w":465,"v":136},{"t":364,"w":465,"v":132},{"t":371,"w":465,"v":130},{"t":378,"w":465,"v":127},{"t":385,"w":465,"v":129},{"t":392,"w":465,"v":126},{"t":399,"w":465,"v":130},{"t":400,"w":465,"v":19},{"t":450,"w":465,"v":19},{"t":451,"w":465,"v":135},{"t":457,"w":465,"v":130},{"t":464,"w":465,"v":128},{"t":471,"w":465,"v":126},{"t":478,"w":465,"v":130},{"t":485,"w":465,"v":143},{"t":492,"w":465,"v":125},{"t":499,"w":465,"v":132},{"t":500,"w":465,"v":21},{"t":550,"w":465,"v":25},
{"t":0,"w":595,"v":17},{"t":50,"w":595,"v":17},{"t":51,"w":595,"v":92},{"t":62,"w":595,"v":96},{"t":75,"w":595,"v":95},{"t":88,"w":595,"v":96},{"t":99,"w":595,"v":96},{"t":100,"w":595,"v":17},{"t":150,"w":595,"v":17},{"t":151,"w":595,"v":97},{"t":162,"w":595,"v":98},{"t":175,"w":595,"v":99},{"t":188,"w":595,"v":100},{"t":199,"w":595,"v":99},{"t":200,"w":595,"v":18},{"t":250,"w":595,"v":18},{"t":251,"w":595,"v":99},{"t":262,"w":595,"v":100},{"t":275,"w":595,"v":99},{"t":288,"w":595,"v":98},{"t":299,"w":595,"v":99},{"t":300,"w":595,"v":18},{"t":350,"w":595,"v":18},{"t":351,"w":595,"v":99},{"t":362,"w":595,"v":101},{"t":375,"w":595,"v":100},{"t":388,"w":595,"v":99},{"t":399,"w":595,"v":100},{"t":400,"w":595,"v":21},{"t":450,"w":595,"v":21},{"t":451,"w":595,"v":100},{"t":462,"w":595,"v":99},{"t":475,"w":595,"v":100},{"t":488,"w":595,"v":99},{"t":499,"w":595,"v":100},{"t":500,"w":595,"v":22},{"t":550,"w":595,"v":22},
{"t":0,"w":730,"v":17},{"t":50,"w":730,"v":17},{"t":51,"w":730,"v":85},{"t":62,"w":730,"v":86},{"t":75,"w":730,"v":84},{"t":88,"w":730,"v":85},{"t":99,"w":730,"v":85},{"t":100,"w":730,"v":17},{"t":150,"w":730,"v":17},{"t":151,"w":730,"v":89},{"t":162,"w":730,"v":90},{"t":175,"w":730,"v":88},{"t":188,"w":730,"v":89},{"t":199,"w":730,"v":90},{"t":200,"w":730,"v":17},{"t":250,"w":730,"v":17},{"t":251,"w":730,"v":86},{"t":262,"w":730,"v":95},{"t":275,"w":730,"v":87},{"t":288,"w":730,"v":86},{"t":299,"w":730,"v":86},{"t":300,"w":730,"v":17},{"t":350,"w":730,"v":17},{"t":351,"w":730,"v":94},{"t":362,"w":730,"v":92},{"t":375,"w":730,"v":91},{"t":388,"w":730,"v":90},{"t":399,"w":730,"v":92},{"t":400,"w":730,"v":17},{"t":450,"w":730,"v":17},{"t":451,"w":730,"v":92},{"t":462,"w":730,"v":94},{"t":475,"w":730,"v":93},{"t":488,"w":730,"v":93},{"t":499,"w":730,"v":94},{"t":500,"w":730,"v":17},{"t":550,"w":730,"v":18},
{"t":0,"w":850,"v":16},{"t":50,"w":850,"v":16},{"t":51,"w":850,"v":81},{"t":62,"w":850,"v":82},{"t":75,"w":850,"v":81},{"t":88,"w":850,"v":81},{"t":99,"w":850,"v":81},{"t":100,"w":850,"v":16},{"t":150,"w":850,"v":16},{"t":151,"w":850,"v":85},{"t":162,"w":850,"v":86},{"t":175,"w":850,"v":87},{"t":188,"w":850,"v":85},{"t":199,"w":850,"v":85},{"t":200,"w":850,"v":16},{"t":250,"w":850,"v":16},{"t":251,"w":850,"v":84},{"t":262,"w":850,"v":83},{"t":275,"w":850,"v":82},{"t":288,"w":850,"v":82},{"t":299,"w":850,"v":82},{"t":300,"w":850,"v":16},{"t":350,"w":850,"v":16},{"t":351,"w":850,"v":82},{"t":362,"w":850,"v":82},{"t":375,"w":850,"v":83},{"t":388,"w":850,"v":83},{"t":399,"w":850,"v":83},{"t":400,"w":850,"v":16},{"t":450,"w":850,"v":16},{"t":451,"w":850,"v":84},{"t":462,"w":850,"v":85},{"t":475,"w":850,"v":84},{"t":488,"w":850,"v":84},{"t":499,"w":850,"v":85},{"t":500,"w":850,"v":16},{"t":550,"w":850,"v":16},
{"t":0,"w":940,"v":18},{"t":50,"w":940,"v":18},{"t":51,"w":940,"v":104},{"t":62,"w":940,"v":104},{"t":75,"w":940,"v":105},{"t":88,"w":940,"v":105},{"t":99,"w":940,"v":105},{"t":100,"w":940,"v":18},{"t":150,"w":940,"v":18},{"t":151,"w":940,"v":106},{"t":162,"w":940,"v":106},{"t":175,"w":940,"v":106},{"t":188,"w":940,"v":106},{"t":199,"w":940,"v":106},{"t":200,"w":940,"v":18},{"t":250,"w":940,"v":18},{"t":251,"w":940,"v":108},{"t":262,"w":940,"v":108},{"t":275,"w":940,"v":108},{"t":288,"w":940,"v":107},{"t":299,"w":940,"v":108},{"t":300,"w":940,"v":18},{"t":350,"w":940,"v":18},{"t":351,"w":940,"v":110},{"t":362,"w":940,"v":109},{"t":375,"w":940,"v":110},{"t":388,"w":940,"v":109},{"t":399,"w":940,"v":110},{"t":400,"w":940,"v":18},{"t":450,"w":940,"v":18},{"t":451,"w":940,"v":112},{"t":462,"w":940,"v":109},{"t":475,"w":940,"v":109},{"t":488,"w":940,"v":108},{"t":499,"w":940,"v":108},{"t":500,"w":940,"v":18},{"t":550,"w":940,"v":18}
]
}
}
